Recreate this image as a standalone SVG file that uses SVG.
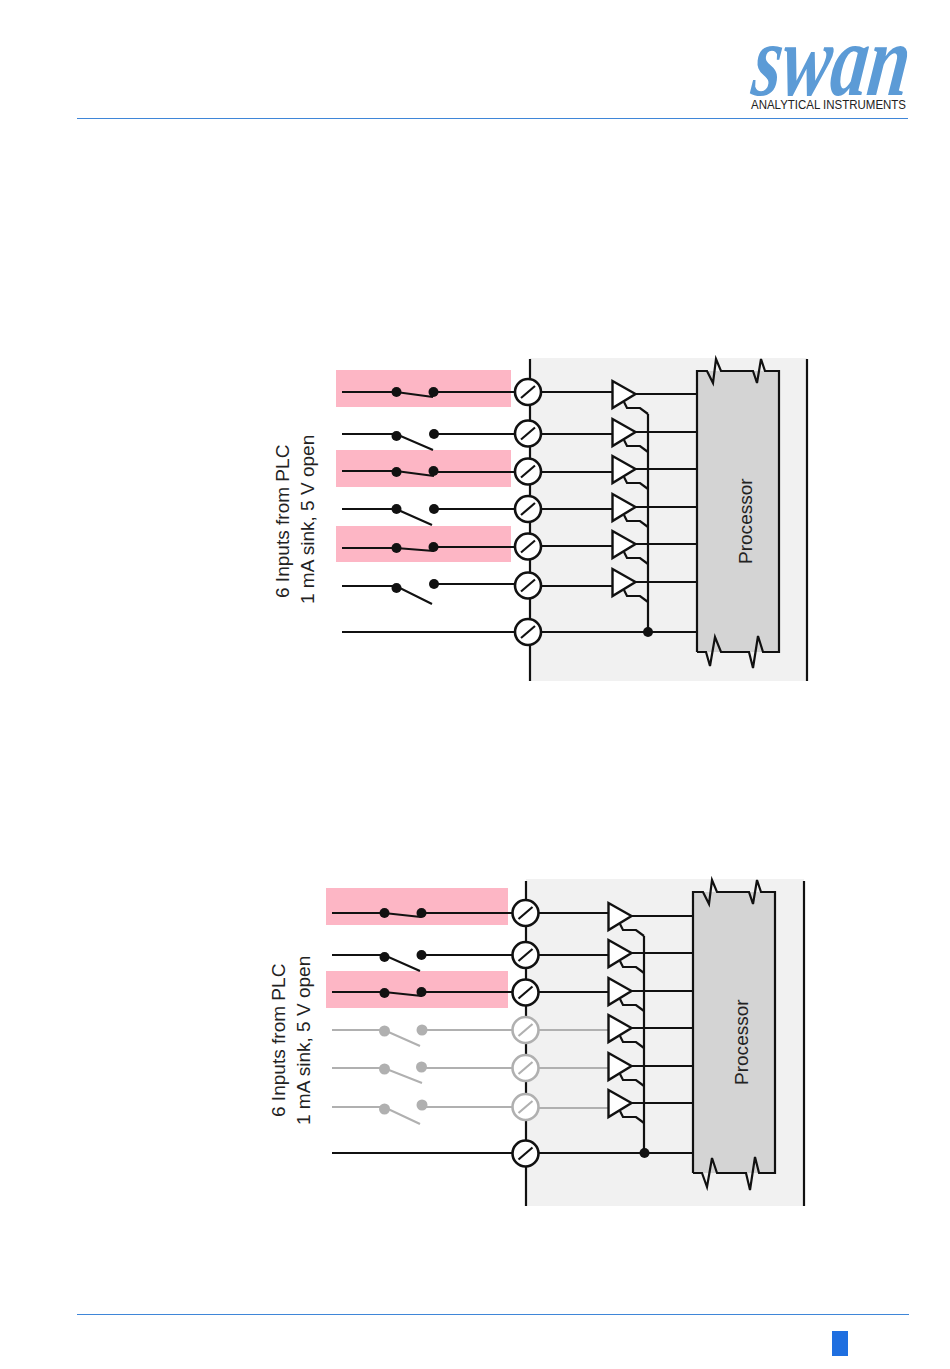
<svg xmlns="http://www.w3.org/2000/svg" xmlns:xlink="http://www.w3.org/1999/xlink" width="950" height="1369" viewBox="0 0 950 1369">
<style>
.w{fill:none;stroke:#111;stroke-width:2.2}
.g{fill:none;stroke:#b0b0b0;stroke-width:2.2}
.t{fill:#fff;stroke:#111;stroke-width:2.6}
.tg{fill:#fff;stroke:#b0b0b0;stroke-width:2.6}
.d{fill:#111}.dg{fill:#b0b0b0}
.pink{fill:#fdb6c5}.panel{fill:#f1f1f1}.proc{fill:#d4d4d4}
.buf{fill:#fff;stroke:#111;stroke-width:2.4}
text{font-family:"Liberation Sans",Arial,sans-serif;fill:#222}
.lab{font-size:19.050px}
</style>
<defs>
<g id="term"><circle r="13" class="t"/><path d="M-7 6L7-6" class="w"/></g>
<g id="termg"><circle r="13" class="tg"/><path d="M-7 6L7-6" class="g"/></g>
<g id="buf"><path d="M0.500-13L23.500 0L0.500 14Z" class="buf"/><path d="M12 8L15 14H28L36 20" class="w"/></g>
</defs>
<rect width="950" height="1369" fill="#fff"/>
<g id="header">
<text transform="translate(750 95) skewX(-7) scale(.71 1)" style="font-family:'Liberation Serif',serif;font-style:italic;font-weight:bold;font-size:104px;fill:#5c9bd6">swan</text>
<text x="751" y="109" textLength="155" lengthAdjust="spacingAndGlyphs" style="font-size:13px;fill:#222">ANALYTICAL INSTRUMENTS</text>
<path d="M77 118.500H908" stroke="#3f86d8" stroke-width="1.2" fill="none"/>
</g>
<g id="footer">
<path d="M77 1314.500H909" stroke="#3f86d8" stroke-width="1.2" fill="none"/>
<rect x="832" y="1331" width="16" height="25" fill="#1f6fe0"/>
</g>

<g id="diagram-top">
<rect class="panel" x="530" y="358" width="277" height="323"/>
<g id="highlights-top"><rect class="pink" x="336" y="370" width="175" height="37"/><rect class="pink" x="336" y="450" width="175" height="37"/><rect class="pink" x="336" y="526" width="175" height="36"/></g>
<g id="connectors-top">
<path class="w" d="M530 359V681M807 359V681"/>
<path class="w" d="M342 392H396L433 397M433 392H515M342 434H396L433 450M434 434H515M342 471H396L434 476M433 472H515M342 509H396L432 525M434 509H515M342 548H396L434 551M433 547H515M342 586H396L432 604M434 584H515M342 632H515"/>
<path class="w" d="M541 392H612M541 434H612M541 472H612M541 509H612M541 546H612M541 586H612M541 632H697"/>
<path class="w" d="M635 394H697M635 432H697M635 469H697M635 507H697M635 544H697M635 582H697M648 414V632"/>
</g>
<g id="switches-top" class="d"><circle cx="396.500" cy="392" r="5"/><circle cx="433.500" cy="392" r="5"/><circle cx="396.500" cy="436" r="5"/><circle cx="434" cy="434" r="5"/><circle cx="396.500" cy="472" r="5"/><circle cx="433.500" cy="471" r="5"/><circle cx="396.500" cy="509" r="5"/><circle cx="434" cy="509" r="5"/><circle cx="396.500" cy="548" r="5"/><circle cx="433.500" cy="547" r="5"/><circle cx="396.500" cy="588" r="5"/><circle cx="434" cy="584" r="5"/><circle cx="648" cy="632" r="5"/></g>
<g id="terminals-top"><use xlink:href="#term" x="528" y="392"/><use xlink:href="#term" x="528" y="433.500"/><use xlink:href="#term" x="528" y="471.500"/><use xlink:href="#term" x="528" y="509"/><use xlink:href="#term" x="528" y="546.500"/><use xlink:href="#term" x="528" y="585.500"/><use xlink:href="#term" x="528" y="632"/></g>
<g id="buffers-top"><use xlink:href="#buf" x="612" y="394"/><use xlink:href="#buf" x="612" y="432"/><use xlink:href="#buf" x="612" y="469"/><use xlink:href="#buf" x="612" y="507"/><use xlink:href="#buf" x="612" y="544"/><use xlink:href="#buf" x="612" y="582"/></g>
<g id="processor-top">
<rect class="proc" x="697" y="371" width="82" height="281"/>
<path class="w" d="M697 652V371H707L713 383L716 359L721 371H753L757 383L761 359L765 371H779V652H763L758 636L753 668L749 652H721L715 637L710 666L706 652H697"/>
<text class="lab" transform="translate(752 564) rotate(-90)">Processor</text>
</g>
<text class="lab" transform="translate(289 598) rotate(-90)">6 Inputs from PLC</text>
<text class="lab" transform="translate(314 604) rotate(-90)">1 mA sink, 5 V open</text>
</g>

<g id="diagram-bottom">
<rect class="panel" x="526" y="879" width="278" height="327"/>
<g id="highlights-bottom"><rect class="pink" x="326" y="888" width="182" height="37"/><rect class="pink" x="326" y="971" width="182" height="37"/></g>
<g id="connectors-bottom">
<path class="w" d="M526 881V1206M804 881V1206"/>
<path class="w" d="M332 913H384L421 917M421 913H512M332 955H384L420 971M421 955H512M332 992H384L422 996M421 992H512M332 1153H512"/>
<path class="g" d="M332 1030H384L420 1046M422 1030H512M332 1068H384L422 1083M421 1068H512M332 1107H384L420 1124M422 1107H512"/>
<path class="w" d="M538 913H608M538 955H608M538 992H608M538 1153H692"/>
<path class="g" d="M538 1030H608M538 1068H608M538 1108H608"/>
<path class="w" d="M631 916H692M631 953H692M631 991H692M631 1028H692M631 1066H692M631 1103H692M644 936V1153"/>
</g>
<g id="switches-bottom"><g class="d"><circle cx="384.500" cy="913" r="5"/><circle cx="421.500" cy="913" r="5"/><circle cx="384.500" cy="957" r="5"/><circle cx="421.500" cy="955" r="5"/><circle cx="384.500" cy="993" r="5"/><circle cx="421.500" cy="992" r="5"/><circle cx="644.500" cy="1153" r="5"/></g>
<g class="dg"><circle cx="384.500" cy="1031" r="5.500"/><circle cx="422" cy="1030" r="5.500"/><circle cx="384.500" cy="1069" r="5.500"/><circle cx="421.500" cy="1067" r="5.500"/><circle cx="384.500" cy="1109" r="5.500"/><circle cx="422" cy="1105" r="5.500"/></g></g>
<g id="terminals-bottom"><use xlink:href="#term" x="525.500" y="913"/><use xlink:href="#term" x="525.500" y="955"/><use xlink:href="#term" x="525.500" y="992.500"/><use xlink:href="#termg" x="525.500" y="1030"/><use xlink:href="#termg" x="525.500" y="1068"/><use xlink:href="#termg" x="525.500" y="1107"/><use xlink:href="#term" x="525.500" y="1153.500"/></g>
<g id="buffers-bottom"><use xlink:href="#buf" x="608" y="916"/><use xlink:href="#buf" x="608" y="953"/><use xlink:href="#buf" x="608" y="991"/><use xlink:href="#buf" x="608" y="1028"/><use xlink:href="#buf" x="608" y="1066"/><use xlink:href="#buf" x="608" y="1103"/></g>
<g id="processor-bottom">
<rect class="proc" x="693" y="892" width="82" height="281"/>
<path class="w" d="M693 1173V892H703L709 904L712 880L717 892H749L753 904L757 880L761 892H775V1173H759L755 1157L750 1190L746 1173H717L712 1158L707 1187L702 1173H693"/>
<text class="lab" transform="translate(748 1085) rotate(-90)">Processor</text>
</g>
<text class="lab" transform="translate(285 1117) rotate(-90)">6 Inputs from PLC</text>
<text class="lab" transform="translate(310 1125) rotate(-90)">1 mA sink, 5 V open</text>
</g>
</svg>
